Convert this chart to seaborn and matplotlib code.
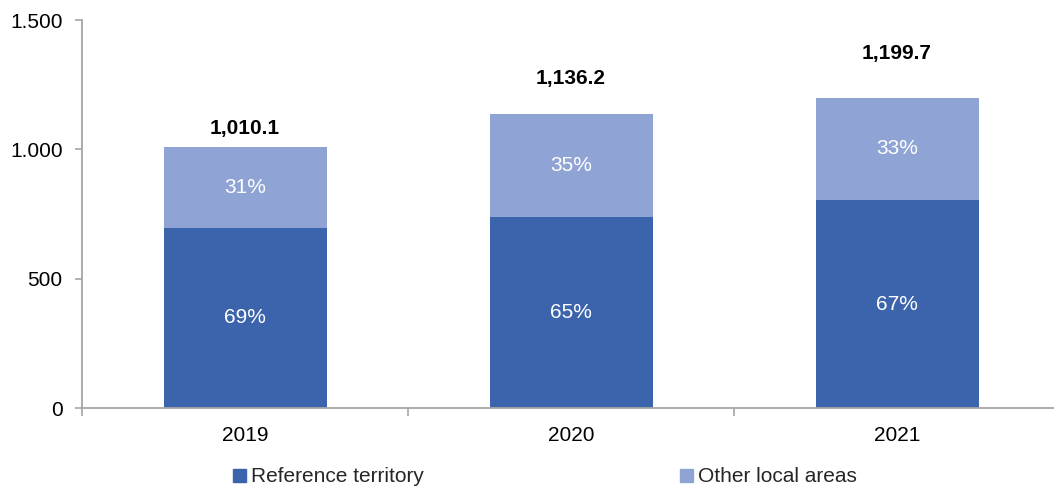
import pandas as pd
import matplotlib.pyplot as plt
import seaborn as sns
from matplotlib.ticker import FuncFormatter
from matplotlib.patches import Patch

# Data
years = ["2019", "2020", "2021"]
reference_territory = [697.0, 738.5, 803.8]
other_local_areas = [313.1, 397.7, 395.9]
totals = [1010.1, 1136.2, 1199.7]
ref_share = ["69%", "65%", "67%"]
other_share = ["31%", "35%", "33%"]

dark_blue = "#3C64AC"
light_blue = "#8FA4D4"
axis_gray = "#A6A6A6"

sns.set_theme(style="white")
plt.rcParams["font.family"] = ["Liberation Sans", "DejaVu Sans"]

df = pd.DataFrame({
    "year": years,
    "ref": reference_territory,
    "total": [r + o for r, o in zip(reference_territory, other_local_areas)],
})

fig = plt.figure(figsize=(10.54, 4.91), dpi=100)
ax = fig.add_axes([82 / 1054, 83 / 491, 978 / 1054, 388 / 491])

# Stacked bars: full height in light blue, bottom part in dark blue on top
sns.barplot(data=df, x="year", y="total", color=light_blue, width=0.5,
            saturation=1, edgecolor="none", linewidth=0, ax=ax)
sns.barplot(data=df, x="year", y="ref", color=dark_blue, width=0.5,
            saturation=1, edgecolor="none", linewidth=0, ax=ax)

# Segment labels
for i in range(len(years)):
    ref = reference_territory[i]
    tot = df["total"][i]
    ax.text(i, ref / 2, ref_share[i], ha="center", va="center",
            color="white", fontsize=15)
    ax.text(i, ref + (tot - ref) / 2, other_share[i], ha="center",
            va="center", color="white", fontsize=15)

# Total labels above bars
total_pad = [6, 19, 25]
for i, t in enumerate(totals):
    ax.annotate(f"{t:,.1f}", (i, df["total"][i]), xytext=(0, total_pad[i]),
                textcoords="offset points", ha="center", va="bottom",
                fontsize=15, fontweight="bold", color="black")

ax.set_ylim(0, 1500)
ax.set_xlim(-0.5, 2.5)
ax.set_yticks([0, 500, 1000, 1500])
ax.yaxis.set_major_formatter(FuncFormatter(lambda v, p: f"{v:,.0f}".replace(",", ".")))
ax.set_xlabel("")
ax.set_ylabel("")

# Ticks between categories on x axis
ax.set_xticks([0, 1, 2])
ax.set_xticks([-0.5, 0.5, 1.5, 2.5], minor=True)
ax.tick_params(axis="x", which="major", length=0, labelsize=15, pad=13,
               colors="black")
ax.tick_params(axis="x", which="minor", length=6, width=1.2, color=axis_gray,
               direction="out", bottom=True)
ax.tick_params(axis="y", length=5, width=1.2, color=axis_gray, direction="out",
               left=True, labelsize=15, labelcolor="black", pad=9)

sns.despine(ax=ax, top=True, right=True)
for side in ["left", "bottom"]:
    ax.spines[side].set_color(axis_gray)
    ax.spines[side].set_linewidth(1.3)

handles = [Patch(color=dark_blue, label="Reference territory"),
           Patch(color=light_blue, label="Other local areas")]
fig.legend(handles=handles, loc="center", bbox_to_anchor=(545 / 1054, 1 - 477 / 491),
           ncol=2, frameon=False, fontsize=15, handlelength=0.6,
           handleheight=0.6, handletextpad=0.25, columnspacing=12.3)

plt.savefig("out.png", dpi=100)
plt.close()
